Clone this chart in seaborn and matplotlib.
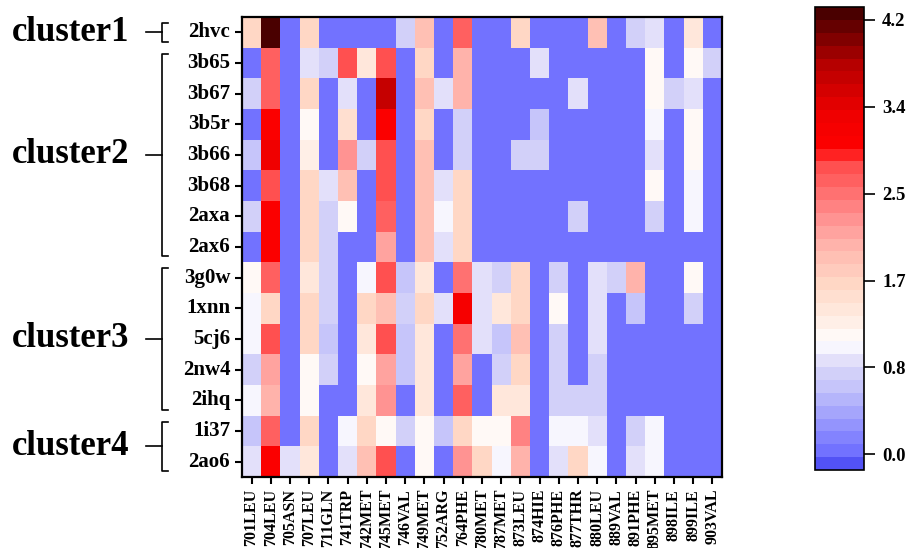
import numpy as np
import pandas as pd
import seaborn as sns
import matplotlib.pyplot as plt
from matplotlib.colors import LinearSegmentedColormap
from matplotlib.lines import Line2D
from matplotlib.transforms import blended_transform_factory

# du lieu
rows = ['2hvc', '3b65', '3b67', '3b5r', '3b66', '3b68', '2axa', '2ax6',
        '3g0w', '1xnn', '5cj6', '2nw4', '2ihq', '1i37', '2ao6']
residues = ['701LEU', '704LEU', '705ASN', '707LEU', '711GLN', '741TRP', '742MET',
            '745MET', '746VAL', '749MET', '752ARG', '764PHE', '780MET', '787MET',
            '873LEU', '874HIE', '876PHE', '877THR', '880LEU', '889VAL', '891PHE',
            '895MET', '898ILE', '899ILE', '903VAL']
values = [
    [1.6, 4.2, 0, 1.6, 0, 0, 0, 0, 0.8, 1.85, 0, 2.7, 0, 0, 1.6, 0, 0, 0, 1.85, 0, 0.8, 0.92, 0, 1.35, 0],
    [0, 2.7, 0, 0.92, 0.8, 2.8, 1.35, 2.8, 0, 1.6, 0, 2.0, 0, 0, 0, 0.92, 0, 0, 0, 0, 0, 1.2, 0, 1.2, 0.8],
    [0.75, 2.7, 0, 1.6, 0, 0.92, 0, 3.6, 0, 1.9, 0.92, 2.0, 0, 0, 0, 0, 0, 0.92, 0, 0, 0, 1.2, 0.8, 0.92, 0],
    [0, 3.05, 0, 1.2, 0, 1.55, 0, 3.05, 0, 1.7, 0, 0.8, 0, 0, 0, 0.6, 0, 0, 0, 0, 0, 1.05, 0, 1.2, 0],
    [0.6, 3.25, 0, 1.3, 0, 2.3, 0.8, 2.8, 0, 1.9, 0, 0.8, 0, 0, 0.8, 0.8, 0, 0, 0, 0, 0, 0.92, 0, 1.2, 0],
    [0, 2.8, 0, 1.6, 0.92, 1.85, 0, 2.8, 0, 1.95, 0.92, 1.6, 0, 0, 0, 0, 0, 0, 0, 0, 0, 1.2, 0, 1.05, 0],
    [0.8, 3.05, 0, 1.6, 0.8, 1.2, 0, 2.7, 0, 1.95, 1.05, 1.6, 0, 0, 0, 0, 0, 0.8, 0, 0, 0, 0.8, 0, 1.05, 0],
    [0, 3.05, 0, 1.7, 0.8, 0, 0, 2.2, 0, 1.95, 0.92, 1.6, 0, 0, 0, 0, 0, 0, 0, 0, 0, 0, 0, 0, 0],
    [1.2, 2.7, 0, 1.35, 0.8, 0, 1.05, 2.8, 0.6, 1.35, 0, 2.5, 0.92, 0.8, 1.6, 0, 0.8, 0, 0.92, 0.8, 2.0, 0, 0, 1.2, 0],
    [1.05, 1.6, 0, 1.6, 0.8, 0, 1.6, 1.85, 0.8, 1.6, 0.92, 3.1, 0.92, 1.35, 1.7, 0, 1.2, 0, 0.92, 0, 0.6, 0, 0, 0.8, 0],
    [1.05, 2.8, 0, 1.6, 0.6, 0, 1.35, 2.8, 0.6, 1.35, 0, 2.55, 0.92, 0.6, 1.85, 0, 0.8, 0, 0.92, 0, 0, 0, 0, 0, 0],
    [0.8, 2.2, 0, 1.2, 0.8, 0, 1.2, 2.2, 0.6, 1.35, 0, 2.2, 0, 0.8, 1.6, 0, 0.8, 0, 0.8, 0, 0, 0, 0, 0, 0],
    [1.05, 2.0, 0, 1.2, 0, 0, 1.35, 2.3, 0, 1.35, 0, 2.7, 0, 1.35, 1.35, 0, 0.8, 0.8, 0.8, 0, 0, 0, 0, 0, 0],
    [0.6, 2.7, 0, 1.6, 0, 1.05, 1.6, 1.2, 0.8, 1.2, 0.6, 1.6, 1.2, 1.2, 2.4, 0, 1.05, 1.05, 0.92, 0, 0.8, 1.05, 0, 0, 0],
    [0.92, 3.05, 0.92, 1.35, 0, 0.92, 1.95, 2.8, 0, 1.2, 0, 2.3, 1.6, 1.05, 2.0, 0, 0.92, 1.6, 1.05, 0, 0.92, 1.05, 0, 0, 0],
]
clusters = ['cluster1', 'cluster2', 'cluster3', 'cluster4']
cluster_rows = [(0, 0), (1, 7), (8, 12), (13, 14)]
cbar_ticks = [0.0, 0.84, 1.68, 2.52, 3.36, 4.2]

df = pd.DataFrame(values, index=rows, columns=residues)

vmin, vmax = -0.15, 4.32
nodes = [(-0.15, '#5252f5'), (-0.02, '#7373ff'), (0.6, '#c4c4fa'), (0.8, '#d8d4f8'),
         (1.05, '#ffffff'), (1.3, '#ffece2'), (1.6, '#ffdac8'), (2.0, '#ffb6ad'),
         (2.3, '#ff9090'), (2.6, '#ff6868'), (2.88, '#ff4444'), (2.95, '#ff0000'),
         (3.3, '#f00000'), (3.8, '#b80000'), (4.32, '#4a0000')]
cmap = LinearSegmentedColormap.from_list(
    'bwr_steps', [((v - vmin) / (vmax - vmin), c) for v, c in nodes], N=36)

plt.rcParams['font.family'] = ['Liberation Serif', 'DejaVu Serif']
plt.rcParams['font.weight'] = 'bold'

fig = plt.figure(figsize=(9.07, 5.48), dpi=100)
ax = fig.add_axes([0.2668, 0.1296, 0.5292, 0.8394])
cax = fig.add_axes([0.8986, 0.1423, 0.054, 0.8447])

sns.heatmap(df, ax=ax, cbar_ax=cax, cmap=cmap, vmin=vmin, vmax=vmax,
            cbar_kws={'ticks': cbar_ticks})

for s in ax.spines.values():
    s.set_visible(True)
    s.set_linewidth(1.6)
    s.set_color('black')
ax.tick_params(axis='both', direction='out', length=5, width=1.5, color='black')
ax.set_yticklabels(rows, rotation=0, fontsize=15, fontweight='bold')
ax.set_xticklabels(residues, rotation=90, fontsize=11.5, fontweight='bold')
ax.set_xlabel('')
ax.set_ylabel('')

cb = ax.collections[0].colorbar
cb.outline.set_linewidth(1.2)
cb.outline.set_edgecolor('black')
cb.set_ticklabels(['%.1f' % t for t in cbar_ticks])
cax.tick_params(direction='out', length=8, width=1.2, pad=5, labelsize=13.5)
for lab in cax.get_yticklabels():
    lab.set_fontweight('bold')

# ngoac nhom cluster
tr = blended_transform_factory(ax.transAxes, ax.transData)
xv, xh, xm = -0.167, -0.154, -0.2
for name, (r0, r1) in zip(clusters, cluster_rows):
    y0, y1 = r0 + 0.2, r1 + 0.8
    ym = (y0 + y1) / 2
    for xs, ys in [([xh, xv, xv, xh], [y0, y0, y1, y1]), ([xm, xv], [ym, ym])]:
        ax.add_line(Line2D(xs, ys, transform=tr, color='black', lw=1.2, clip_on=False))
    ax.text(-0.235, ym, name, transform=tr, ha='right', va='center',
            fontsize=25, fontweight='bold')

fig.savefig('out.png', dpi=100)
